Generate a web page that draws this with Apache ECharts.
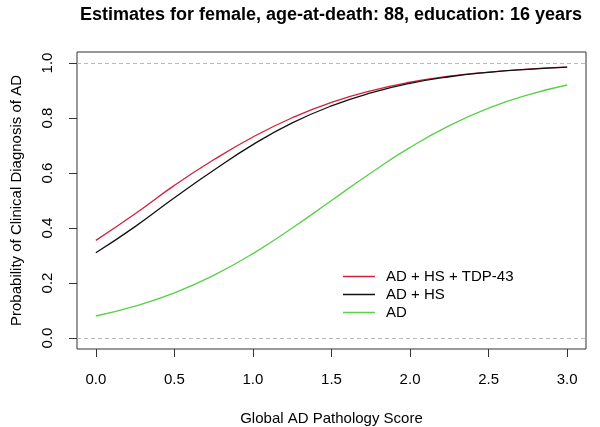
<!DOCTYPE html>
<html>
<head>
<meta charset="utf-8">
<script src="https://cdn.jsdelivr.net/npm/echarts@6/dist/echarts.min.js"></script>
<style>html,body{margin:0;padding:0;background:#fff}#c{width:600px;height:427px}</style>
</head>
<body>
<div id="c"></div>
<script>
var xs = [0, 0.25, 0.5, 0.75, 1.0, 1.25, 1.5, 1.75, 2.0, 2.25, 2.5, 2.75, 3.0];
var adHsTdp = [0.355, 0.452, 0.555, 0.648, 0.731, 0.801, 0.857, 0.899, 0.930, 0.952, 0.967, 0.978, 0.985];
var adHs    = [0.310, 0.405, 0.510, 0.610, 0.703, 0.782, 0.844, 0.891, 0.926, 0.950, 0.966, 0.977, 0.985];
var ad      = [0.080, 0.116, 0.164, 0.228, 0.307, 0.400, 0.500, 0.600, 0.693, 0.772, 0.836, 0.884, 0.920];
var xTicks = [0, 0.5, 1.0, 1.5, 2.0, 2.5, 3.0];
var yTicks = [0, 0.2, 0.4, 0.6, 0.8, 1.0];
var refLines = [0, 1];
var seriesNames = ['AD + HS + TDP-43', 'AD + HS', 'AD'];
var seriesColors = ['#d0203c', '#111111', '#58d048'];

function pairs(v){ return xs.map(function(x,i){ return [x, v[i]]; }); }

var font = 'Liberation Sans, Arial, sans-serif';
var chart = echarts.init(document.getElementById('c'));
var dataSets = [adHsTdp, adHs, ad];
var series = dataSets.map(function(d, i){
  return {
    name: seriesNames[i], type: 'line', data: pairs(d), smooth: true,
    showSymbol: false, symbol: 'none', animation: false,
    lineStyle: {color: seriesColors[i], width: 1.3}, itemStyle: {color: seriesColors[i]}
  };
});
series[2].markLine = {
  silent: true, symbol: 'none', label: {show: false}, animation: false,
  lineStyle: {color: '#b8b8b8', type: [4, 3], width: 1},
  data: refLines.map(function(v){ return {yAxis: v}; })
};
chart.setOption({
  backgroundColor: '#fff',
  animation: false,
  graphic: [{
    type: 'text', x: 331, y: 15,
    style: {text: 'Estimates for female, age-at-death: 88, education: 16 years',
      font: 'bold 18px ' + font, fill: '#000', textAlign: 'center', textVerticalAlign: 'middle'}
  }],
  grid: {left: 77, right: 14, top: 52, bottom: 78, show: true, borderColor: '#333', borderWidth: 1,
    backgroundColor: 'transparent', outerBoundsMode: 'none', containLabel: false},
  legend: {
    orient: 'vertical', left: 338, top: 264, itemWidth: 32, itemHeight: 1.5, itemGap: 3,
    icon: 'rect', data: seriesNames,
    textStyle: {fontFamily: font, fontSize: 15, color: '#000', padding: [0,0,0,6]}
  },
  xAxis: {
    type: 'value', min: -0.12, max: 3.12,
    name: 'Global AD Pathology Score', nameLocation: 'middle', nameGap: 62,
    nameTextStyle: {fontFamily: font, fontSize: 15, color: '#000'},
    axisLine: {show: false, onZero: false}, splitLine: {show: false},
    axisTick: {show: true, customValues: xTicks, length: 8, inside: false, lineStyle: {color: '#333'}},
    axisLabel: {customValues: xTicks, margin: 23, fontFamily: font, fontSize: 15, color: '#000',
      formatter: function(v){ return v.toFixed(1); }}
  },
  yAxis: {
    type: 'value', min: -0.04, max: 1.04,
    name: 'Probability of Clinical Diagnosis of AD', nameLocation: 'middle', nameGap: 53,
    nameTextStyle: {fontFamily: font, fontSize: 15, color: '#000'},
    axisLine: {show: false, onZero: false}, splitLine: {show: false},
    axisTick: {show: true, customValues: yTicks, length: 8, inside: false, lineStyle: {color: '#333'}},
    axisLabel: {customValues: yTicks, margin: 22, rotate: 90, fontFamily: font, fontSize: 15, color: '#000',
      formatter: function(v){ return v.toFixed(1); }}
  },
  series: series
});
</script>
</body>
</html>
